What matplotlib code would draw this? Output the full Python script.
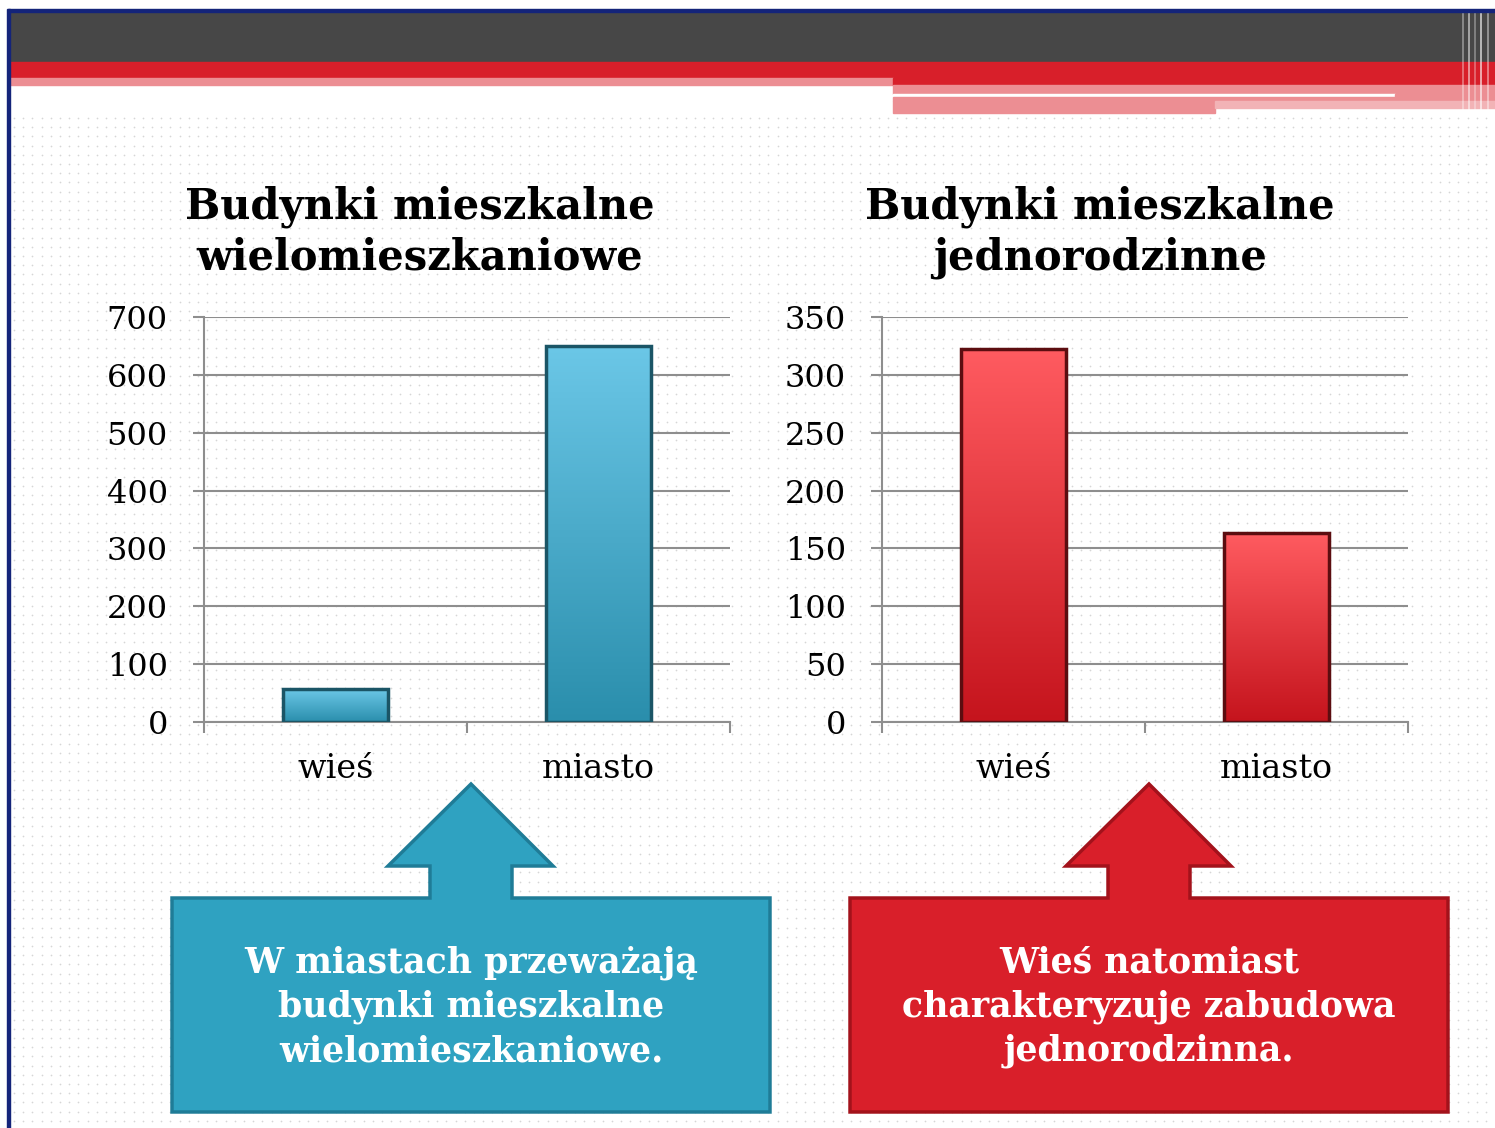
import matplotlib.pyplot as plt
import numpy as np
from matplotlib.patches import Rectangle, Polygon
from matplotlib.colors import LinearSegmentedColormap

# data
categories = ['wieś', 'miasto']
multi_family = [57, 650]      # budynki wielomieszkaniowe
single_family = [322, 163]    # budynki jednorodzinne
left_ticks = [0, 100, 200, 300, 400, 500, 600, 700]
right_ticks = [0, 50, 100, 150, 200, 250, 300, 350]
left_title = 'Budynki mieszkalne\nwielomieszkaniowe'
right_title = 'Budynki mieszkalne\njednorodzinne'
left_note = 'W miastach przeważają\nbudynki mieszkalne\nwielomieszkaniowe.'
right_note = 'Wieś natomiast\ncharakteryzuje zabudowa\njednorodzinna.'

W, H = 1495, 1128
SERIF = 'DejaVu Serif'
GRID = '#8e8e8e'

fig = plt.figure(figsize=(W / 100, H / 100), dpi=100)

#background layer in pixel coords (y down)
bg = fig.add_axes([0, 0, 1, 1], zorder=0)
bg.set_xlim(0, W)
bg.set_ylim(H, 0)
bg.axis('off')

#dotted paper texture
gx, gy = np.meshgrid(np.arange(14, W, 9.2), np.arange(118, H, 9.2))
bg.scatter(gx.ravel(), gy.ravel(), s=1.5, c='#d6d6d6', linewidths=0)

#header bands
bg.add_patch(Rectangle((9, 12), W, 50, color='#474747'))
bg.add_patch(Rectangle((9, 62), W, 16, color='#d81f2a'))
bg.add_patch(Rectangle((9, 78), 884, 7, color='#ec8e93'))
bg.add_patch(Rectangle((893, 78), W, 7, color='#d81f2a'))
bg.add_patch(Rectangle((893, 85), W, 9, color='#ec8e93'))
bg.add_patch(Rectangle((893, 94), 502, 3, color='white'))
bg.add_patch(Rectangle((1395, 94), W, 3, color='#ec8e93'))
bg.add_patch(Rectangle((893, 97), W, 4, color='#ec8e93'))
bg.add_patch(Rectangle((893, 101), 322, 12, color='#ec8e93'))
bg.add_patch(Rectangle((1215, 101), W, 7, color='#f2b3b6'))
for sx, a in [(1462, 0.35), (1468, 0.5), (1474, 0.3), (1480, 0.6), (1487, 0.4)]:
    bg.add_patch(Rectangle((sx, 12), 2, 100, color='white', alpha=a, lw=0))

#navy frame on top and left
bg.add_patch(Rectangle((8, 9), W, 3, color='#14247a'))
bg.add_patch(Rectangle((7, 9), 2.5, H, color='#14247a'))

#callout shapes (box + up arrow)
def callout(cx, face, edge):
    pts = [(cx - 299, 898), (cx - 41, 898), (cx - 41, 866), (cx - 83, 866), (cx, 784),
           (cx + 82, 866), (cx + 41, 866), (cx + 41, 898), (cx + 299, 898),
           (cx + 299, 1112), (cx - 299, 1112)]
    bg.add_patch(Polygon(pts, closed=True, facecolor=face, edgecolor=edge, lw=2.5))

callout(471, '#2fa2c1', '#1f7c97')
callout(1149, '#d91f2a', '#a3121b')
bg.text(471, 1007, left_note, ha='center', va='center', color='white', fontsize=25,
        fontweight='bold', family=SERIF, linespacing=1.36)
bg.text(1149, 1007, right_note, ha='center', va='center', color='white', fontsize=25,
        fontweight='bold', family=SERIF, linespacing=1.36)

#chart titles
fig.text(420 / W, 1 - 232 / H, left_title, ha='center', va='center', fontsize=30,
         fontweight='bold', family=SERIF, linespacing=1.26)
fig.text(1100 / W, 1 - 232 / H, right_title, ha='center', va='center', fontsize=30,
         fontweight='bold', family=SERIF, linespacing=1.26)

blue_cmap = LinearSegmentedColormap.from_list('b', ['#2a8eac', '#6bc7e7'])
red_cmap = LinearSegmentedColormap.from_list('r', ['#c5141d', '#ff5b60'])


def draw_chart(x0, values, ticks, cmap, edge):
    ax = fig.add_axes([x0 / W, 1 - 722 / H, 526 / W, 405 / H], zorder=2)
    ax.set_facecolor('none')
    pos = np.arange(len(categories)) + 0.5
    bars = ax.bar(pos, values, width=0.4, color='none', edgecolor=edge, linewidth=2.5, zorder=3)
    grad = np.linspace(0, 1, 200).reshape(-1, 1)
    for b in bars:
        bx, by, bw, bh = b.get_x(), b.get_y(), b.get_width(), b.get_height()
        im = ax.imshow(grad, extent=[bx, bx + bw, by, by + bh], origin='lower',
                       cmap=cmap, aspect='auto', zorder=2)
        im.set_clip_path(b)
    ax.set_xlim(0, 2)
    ax.set_ylim(0, ticks[-1])
    ax.set_yticks(ticks)
    ax.yaxis.grid(True, color=GRID, lw=1.5)
    ax.set_axisbelow(True)
    for s in ['top', 'right']:
        ax.spines[s].set_visible(False)
    for s in ['left', 'bottom']:
        ax.spines[s].set_color(GRID)
        ax.spines[s].set_linewidth(1.5)
    ax.set_xticks([0, 1, 2])
    ax.set_xticklabels([])
    ax.set_xticks(pos, minor=True)
    ax.set_xticklabels(categories, minor=True, fontsize=24, family=SERIF)
    ax.tick_params(axis='x', which='major', direction='out', length=8, width=1.5, color=GRID)
    ax.tick_params(axis='x', which='minor', length=0, pad=22)
    ax.tick_params(axis='y', direction='out', length=8, width=1.5, color=GRID, pad=18)
    for lbl in ax.get_yticklabels():
        lbl.set_fontsize(23)
        lbl.set_family(SERIF)
    return ax


draw_chart(204, multi_family, left_ticks, blue_cmap, '#1b5566')
draw_chart(882, single_family, right_ticks, red_cmap, '#5c0d10')

fig.savefig('out.png', dpi=100, facecolor='white')
